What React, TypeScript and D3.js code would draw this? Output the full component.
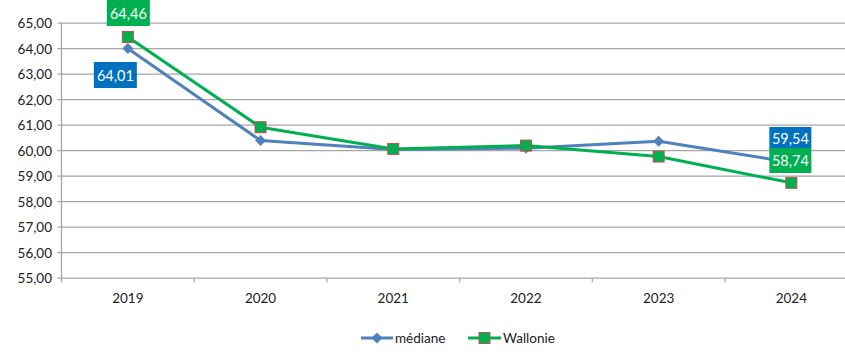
import * as d3 from 'd3';

const years = ['2019', '2020', '2021', '2022', '2023', '2024'];
const mediane = [64.01, 60.4, 60.05, 60.1, 60.37, 59.54];
const wallonie = [64.46, 60.92, 60.07, 60.2, 59.77, 58.74];
const yTicks = [55, 56, 57, 58, 59, 60, 61, 62, 63, 64, 65];

const W = 845;
const H = 353;
const LEFT = 61.5;
const BAND = 132.7;
const TOP = 23.2;
const BOTTOM = 278.2;

const BLUE = '#4F81BD';
const GREEN = '#00B050';
const FONT = 'Lato, "Open Sans", sans-serif';

const fmt = (v: number) => v.toFixed(2).replace('.', ',');

export default function App() {
  const x = d3
    .scaleBand<string>()
    .domain(years)
    .range([LEFT, LEFT + BAND * years.length]);
  const cx = (y: string) => (x(y) ?? 0) + x.bandwidth() / 2;
  const y = d3.scaleLinear().domain([55, 65]).range([BOTTOM, TOP]);

  const line = d3
    .line<number>()
    .x((_, i) => cx(years[i]))
    .y(v => y(v));

  const diamond = (px: number, py: number, r: number) =>
    `M${px},${py - r} L${px + r},${py} L${px},${py + r} L${px - r},${py} Z`;

  const last = years.length - 1;

  return (
    <svg
      width={W}
      height={H}
      style={{ position: 'absolute', left: 0, top: 0, background: '#fff' }}
      fontFamily={FONT}
    >
      {/* gridlines */}
      {yTicks.map(t => (
        <g key={`g-${t}`}>
          <line x1={57.5} x2={W} y1={y(t)} y2={y(t)} stroke="#A6A6A6" strokeWidth={1.3} />
          <text x={52} y={y(t) + 5} textAnchor="end" fontSize={13.5} fill="#222">
            {fmt(t)}
          </text>
        </g>
      ))}
      {/* y axis */}
      <line x1={LEFT} x2={LEFT} y1={TOP} y2={BOTTOM + 4} stroke="#A6A6A6" strokeWidth={1.3} />
      {/* x ticks */}
      {years.map((yr, i) => (
        <g key={`x-${yr}`}>
          <line
            x1={LEFT + BAND * (i + 1)}
            x2={LEFT + BAND * (i + 1)}
            y1={BOTTOM}
            y2={BOTTOM + 4}
            stroke="#A6A6A6"
            strokeWidth={1.3}
          />
          <text x={cx(yr)} y={303} textAnchor="middle" fontSize={13.5} fill="#222">
            {yr}
          </text>
        </g>
      ))}

      {/* médiane */}
      <path d={line(mediane) ?? ''} fill="none" stroke={BLUE} strokeWidth={3} strokeLinejoin="round" />
      {mediane.map((v, i) => (
        <path key={`md-${i}`} d={diamond(cx(years[i]), y(v), 5.5)} fill={BLUE} />
      ))}

      {/* Wallonie */}
      <path d={line(wallonie) ?? ''} fill="none" stroke={GREEN} strokeWidth={3} strokeLinejoin="round" />
      {wallonie.map((v, i) => (
        <rect
          key={`wl-${i}`}
          x={cx(years[i]) - 5.5}
          y={y(v) - 5.5}
          width={11}
          height={11}
          fill={GREEN}
          stroke="#C0504D"
          strokeWidth={1}
        />
      ))}

      {/* data labels */}
      <rect x={cx(years[0]) - 21} y={0} width={43} height={26} fill={GREEN} />
      <text x={cx(years[0]) + 0.5} y={18.5} textAnchor="middle" fontSize={14.5} fill="#fff">
        {fmt(wallonie[0])}
      </text>
      <rect x={cx(years[0]) - 34} y={62} width={43} height={26} fill="#0070C0" />
      <text x={cx(years[0]) - 12.5} y={80.5} textAnchor="middle" fontSize={14.5} fill="#fff">
        {fmt(mediane[0])}
      </text>
      <rect x={cx(years[last]) - 22} y={127} width={42} height={22} fill="#0070C0" />
      <text x={cx(years[last]) - 1} y={143.5} textAnchor="middle" fontSize={14.5} fill="#fff">
        {fmt(mediane[last])}
      </text>
      <rect x={cx(years[last]) - 22} y={148} width={42} height={25} fill={GREEN} />
      <text x={cx(years[last]) - 1} y={165.5} textAnchor="middle" fontSize={14.5} fill="#fff">
        {fmt(wallonie[last])}
      </text>

      {/* legend */}
      <g fontSize={13.5} fill="#222">
        <line x1={361} x2={393} y1={338} y2={338} stroke={BLUE} strokeWidth={3} />
        <path d={diamond(377, 338, 5.5)} fill={BLUE} />
        <text x={395} y={343}>médiane</text>
        <line x1={468} x2={501} y1={338} y2={338} stroke={GREEN} strokeWidth={3} />
        <rect x={479} y={332.5} width={11} height={11} fill={GREEN} stroke="#C0504D" />
        <text x={503} y={343}>Wallonie</text>
      </g>
    </svg>
  );
}
